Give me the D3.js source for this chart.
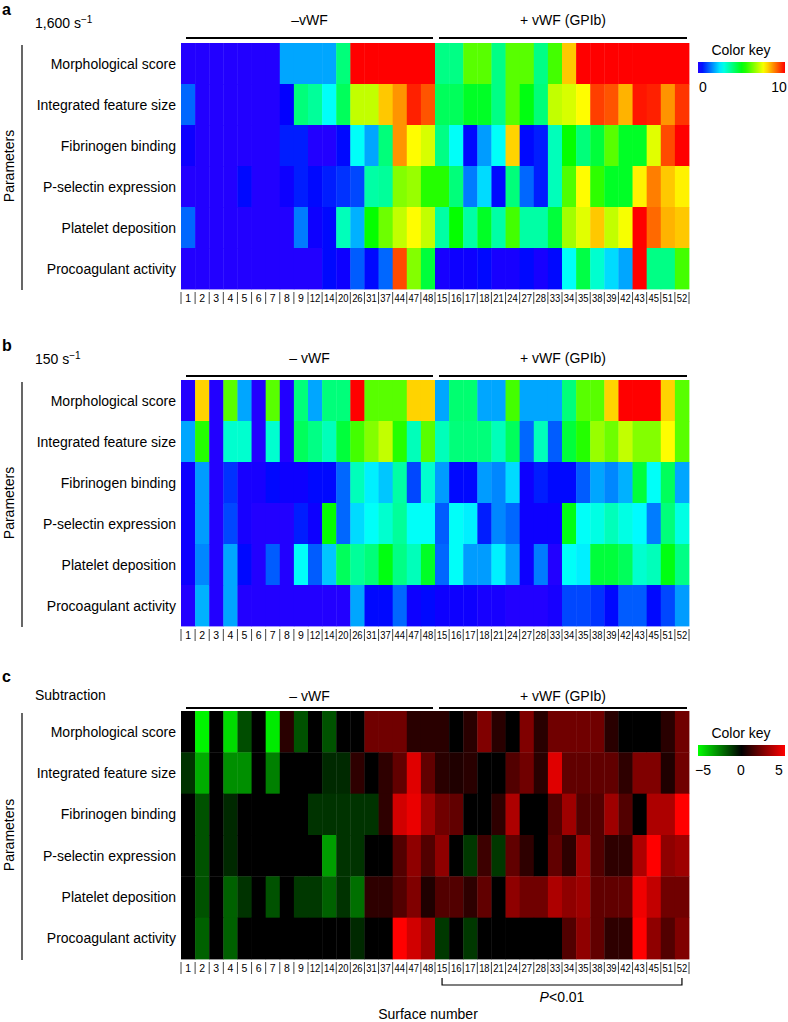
<!DOCTYPE html>
<html><head><meta charset="utf-8">
<script src="https://cdn.jsdelivr.net/npm/d3@7"></script>
<style>body{margin:0;background:#fff}svg{display:block;font-family:"Liberation Sans",Arial,sans-serif}</style>
</head><body><svg id="c" width="788" height="1022"></svg>
<script>
const columns = ["1","2","3","4","5","6","7","8","9","12","14","20","26","31","37","44","47","48",
                 "15","16","17","18","21","24","27","28","33","34","35","38","39","42","43","45","51","52"];
const parameters = ["Morphological score","Integrated feature size","Fibrinogen binding",
                    "P-selectin expression","Platelet deposition","Procoagulant activity"];
const keyTicksAB = [0, 10];
const keyTicksC = [-5, 0, 5];

// Panel a: 1,600 s-1 (0..10)
const shear1600 = [
 [0,0,0,0,0,0,0,1.9,1.9,1.9,1.9,4.0,10,10,10,10,10,10, 3.9,3.9,6.0,6.0,3.9,6.0,6.0,3.9,5.8,8.1,10,10,10,10,10,10,10,10],
 [1.3,0,0,0,0,0,0,0.3,4.0,3.7,2.8,4.3,7.0,7.0,8.1,8.6,9.7,9.2, 4.3,4.3,4.8,4.8,3.9,6.0,5.0,4.0,7.0,7.2,7.6,9.4,9.2,8.3,9.8,9.7,8.6,9.5],
 [0.2,0,0,0,0,0,0,0.6,0.6,0,0,0.4,2.8,1.9,4.0,8.6,7.6,7.2, 3.9,2.8,0.4,1.8,2.8,8.0,0.4,0.6,3.4,5.2,4.0,4.6,6.0,4.8,4.8,7.3,9.3,10],
 [0,0,0,0,0.4,0,0,0.2,0.6,0.4,0.6,0.8,1.0,3.6,3.7,6.4,6.6,5.5, 5.5,4.0,1.5,2.4,0.4,4.0,1.3,0.6,3.4,5.9,7.6,5.6,4.8,4.8,7.7,8.8,8.1,7.7],
 [1.3,0,0,0,0,0,0,0,1.5,0.2,0.4,3.4,2.0,5.2,6.2,7.0,7.6,7.0, 3.6,5.2,3.6,4.8,3.6,5.8,3.6,3.6,4.6,6.7,7.3,8.1,7.0,7.5,10,9.0,8.3,8.1],
 [0,0,0,0,0,0,0,0,0,0,0.4,0.2,1.2,0.4,1.3,9.3,6.4,4.6, 0.1,0.2,0.2,0.4,0.1,0.1,0.4,0.1,0.4,2.8,4.5,3.2,2.4,1.9,10,3.9,3.9,5.8]
];
// Panel b: 150 s-1 (0..10)
const shear150 = [
 [0,8.0,0,6.0,1.9,0,6.0,0,4.0,1.9,4.0,4.0,10,6.0,6.0,6.0,8.0,8.0, 1.9,4.1,4.1,1.9,1.9,5.8,1.9,1.9,1.9,4.0,6.0,6.0,8.0,10,10,10,8.0,6.0],
 [1.9,5.5,0,3.2,3.2,0,3.2,0,4.3,3.9,3.4,4.6,5.8,6.4,7.0,5.5,3.4,6.0, 3.4,4.0,4.0,4.0,3.4,4.3,1.3,3.4,1.2,4.6,5.5,6.6,6.2,7.0,6.4,6.4,7.6,6.0],
 [0.2,1.8,0,0.8,0.1,0.1,0.4,0.2,0.2,0.4,0.4,1.3,3.4,2.6,2.2,3.6,1.0,3.2, 1.8,0.4,0.4,1.8,1.6,2.4,0.2,0.6,0.4,0.4,1.2,1.9,1.6,2.0,4.6,2.8,4.3,1.9],
 [0.2,1.8,0,1.0,0.1,0,0,0,0.6,0.2,5.2,1.3,2.4,2.8,3.2,3.7,2.8,2.8, 1.2,2.8,2.6,0.6,1.6,1.3,0.2,0.2,0.2,5.0,2.8,3.0,3.4,3.0,2.7,1.5,4.0,3.0],
 [0.2,1.6,0,1.9,0.4,0,1.2,0,2.8,1.2,2.2,4.3,3.7,4.0,5.0,3.9,3.4,4.8, 1.3,2.8,1.8,1.8,2.6,1.8,0.2,1.5,0,2.8,2.6,4.6,4.6,4.3,3.2,3.4,5.0,3.9],
 [0,2.0,0,1.9,0,0,0,0,0,0,0,0,1.9,0.4,0.4,1.3,0.2,0.4, 0.2,0.2,0.2,0.1,0.1,0,0,0,0.1,1.0,1.0,0.8,0.4,1.2,1.2,0.4,1.0,1.8]
];
// Panel c: subtraction (-5..5)
const subtraction = [
 [0,-4.8,0,-4.3,-1.5,0,-4.6,0.8,-1.6,0,-1.6,0,0,2.2,2.2,2.2,0.8,0.8, 0.8,0,0.8,2.5,0.8,0,2.5,0.8,2.2,2.2,2.2,2.2,0.8,0,0,0,0.8,2.2],
 [-1.0,-3.4,0,-2.8,-2.8,0,-2.5,0,0,0,-0.8,-0.8,0.9,0,0.9,1.9,4.4,1.9, 0.8,0.6,0.8,0,0,1.6,2.2,0.8,4.4,1.9,1.9,1.9,1.9,0.9,2.5,2.5,0.6,2.2],
 [0,-1.6,0,-0.8,0,0,0,0,0,-1.0,-1.0,-1.0,-1.0,-1.0,0.9,4.1,4.6,3.1, 2.2,1.9,0,0,0.9,3.4,0,0,1.6,3.1,1.6,1.6,3.1,1.6,0,3.4,3.4,5],
 [0,-1.6,0,-0.8,0,0,0,0,0,0,-3.1,-1.0,-1.0,0,0,1.6,2.8,1.6, 2.8,0,-1.1,1.2,-1.1,1.9,0.9,0,1.9,0.9,3.1,1.6,0.9,0.9,3.4,5,2.8,3.1],
 [0,-1.6,0,-1.9,-1.0,0,-1.6,0,-1.1,-1.1,-1.9,-1.0,-2.2,0.9,0.9,1.6,2.5,0.6, 1.6,1.6,0.9,1.9,0,2.8,2.2,2.2,3.4,2.8,3.1,1.9,1.9,1.9,4.7,3.8,2.2,2.2],
 [0,-1.9,0,-1.9,0,0,0,0,0,0,0,0,-0.8,0,0,5,4.1,3.1, -1.1,0,-1.1,0,0,0,0,0,0,1.6,2.8,1.9,0.9,0.9,5,2.8,1.6,2.5]
];

const svg = d3.select("#c");
const hue = d3.scaleLinear().domain([0,10]).range([248,0]).clamp(true);
const rainbow = v => d3.hsl(hue(v),1,0.5).toString();
const gbr = d3.scaleLinear().domain([-5,0,5]).range(["#00ff00","#000000","#ff0000"]).clamp(true);

const x = d3.scaleBand().domain(columns).range([181,689]);

const panels = [
  {letter:"a", title:["1,600 s","−1"], data:shear1600, color:rainbow, top:43, bottom:289, g:["–vWF","+ vWF (GPIb)"], lineY:38, letterY:15, titleY:28, labelY:25},
  {letter:"b", title:["150 s","−1"], data:shear150, color:rainbow, top:380, bottom:626, g:["– vWF","+ vWF (GPIb)"], lineY:376, letterY:351, titleY:364, labelY:363},
  {letter:"c", title:["Subtraction",""], data:subtraction, color:gbr, top:711, bottom:959, g:["– vWF","+  vWF (GPIb)"], lineY:708, letterY:682, titleY:700, labelY:701}
];

panels.forEach(p=>{
  const y = d3.scaleBand().domain(parameters).range([p.top,p.bottom]);
  const g = svg.append("g");
  parameters.forEach((param,ri)=>{
    g.selectAll(null).data(columns).join("rect")
      .attr("x",d=>x(d)).attr("y",y(param))
      .attr("width",x.bandwidth()+0.4).attr("height",y.bandwidth()+0.4)
      .attr("fill",(d,ci)=>p.color(p.data[ri][ci]));
    g.append("text").attr("x",176).attr("y",y(param)+y.bandwidth()/2+5)
      .attr("text-anchor","end").attr("font-size",14).text(param);
  });
  // column labels with separators
  const sepY1 = p.bottom+3, sepY2 = p.bottom+15;
  const bounds = columns.map(c=>x(c)).concat([x.range()[1]]);
  g.selectAll(null).data(bounds).join("line")
    .attr("x1",d=>d).attr("x2",d=>d).attr("y1",sepY1).attr("y2",sepY2)
    .attr("stroke","#333").attr("stroke-width",0.9);
  g.selectAll(null).data(columns).join("text")
    .attr("x",d=>x(d)+x.bandwidth()/2).attr("y",p.bottom+13)
    .attr("text-anchor","middle").attr("font-size",10.5)
    .attr("textLength",d=>d.length>1?10.5:null).attr("lengthAdjust","spacingAndGlyphs").text(d=>d);
  // group lines
  const gx = [[x("1")+5, x("48")+x.bandwidth()-2],[x("15")+4, x("52")+x.bandwidth()-2]];
  gx.forEach((r,i)=>{
    g.append("line").attr("x1",r[0]).attr("x2",r[1]).attr("y1",p.lineY).attr("y2",p.lineY)
      .attr("stroke","#000").attr("stroke-width",2);
    g.append("text").attr("x",(r[0]+r[1])/2).attr("y",p.labelY).attr("text-anchor","middle")
      .attr("font-size",14).text(p.g[i]);
  });
  // Parameters bracket
  g.append("line").attr("x1",22).attr("x2",22).attr("y1",p.top+2).attr("y2",p.bottom+1)
    .attr("stroke","#000").attr("stroke-width",1.2);
  g.append("text").attr("transform",`translate(14,${(p.top+p.bottom)/2}) rotate(-90)`)
    .attr("text-anchor","middle").attr("font-size",14).text("Parameters");
  // letter + title
  g.append("text").attr("x",2).attr("y",p.letterY).attr("font-size",16).attr("font-weight","bold").text(p.letter);
  const t = g.append("text").attr("x",35).attr("y",p.titleY).attr("font-size",14);
  t.append("tspan").text(p.title[0]);
  if(p.title[1]) t.append("tspan").attr("dy",-5).attr("font-size",10).text(p.title[1]);
});

// colour keys
const defs = svg.append("defs");
const gradA = defs.append("linearGradient").attr("id","ga");
d3.range(0,10.01,0.5).forEach(v=>gradA.append("stop").attr("offset",(v/10*100)+"%").attr("stop-color",rainbow(v)));
const gradC = defs.append("linearGradient").attr("id","gc");
[-5,0,5].forEach(v=>gradC.append("stop").attr("offset",((v+5)/10*100)+"%").attr("stop-color",gbr(v)));

function key(grad, ticks, dom, top){
  const kx = d3.scaleLinear().domain(dom).range([703,779]);
  const k = svg.append("g");
  k.append("text").attr("x",741).attr("y",top).attr("text-anchor","middle").attr("font-size",14).text("Color key");
  k.append("rect").attr("x",698).attr("y",top+7).attr("width",87).attr("height",11).attr("fill",`url(#${grad})`);
  k.selectAll(null).data(ticks).join("text").attr("x",d=>kx(d)).attr("y",top+37)
    .attr("text-anchor","middle").attr("font-size",14).text(d=>d<0?"−"+Math.abs(d):d);
}
key("ga", keyTicksAB, [0,10], 55);
key("gc", keyTicksC, [-5,5], 738);

// P<0.01 bracket and x title
const bx1 = x("15")+x.bandwidth()/2, bx2 = x("52")+x.bandwidth()/2;
svg.append("path").attr("d",`M${bx1},978V985H${bx2}V978`).attr("fill","none").attr("stroke","#000").attr("stroke-width",1.2);
const pt = svg.append("text").attr("x",(bx1+bx2)/2).attr("y",1002).attr("text-anchor","middle").attr("font-size",14);
pt.append("tspan").attr("font-style","italic").text("P");
pt.append("tspan").text("<0.01");
svg.append("text").attr("x",428).attr("y",1019).attr("text-anchor","middle").attr("font-size",14).text("Surface number");
</script></body></html>
